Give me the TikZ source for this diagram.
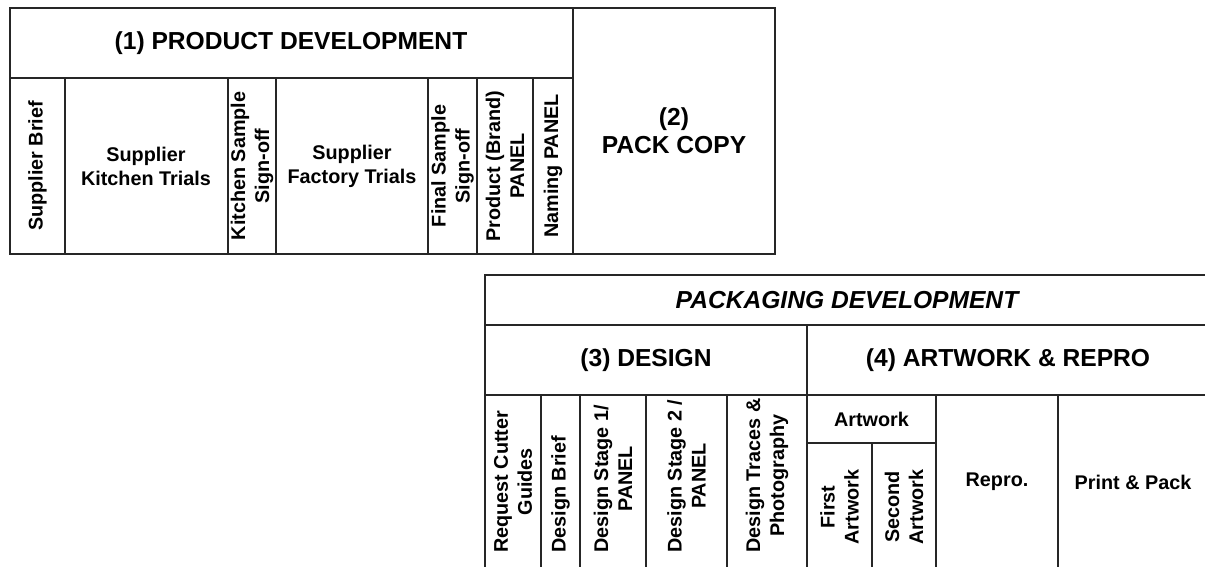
\documentclass[tikz,border=0pt]{standalone}
\usepackage{fontspec}
\setmainfont{Liberation Sans}
\usetikzlibrary{positioning}

\begin{document}
\begin{tikzpicture}[
    x=0.5pt,y=-0.5pt,
    grid/.style={draw=black!85,line width=1pt},
    head/.style={font=\fontsize{12.3}{14}\selectfont\bfseries,align=center},
    txt/.style={font=\fontsize{9.9}{12}\selectfont\bfseries,align=center,inner sep=0pt},
    vtxt/.style={txt,rotate=90}
  ]
    \useasboundingbox (0,0) rectangle (1205,567);
    \fill[white] (0,0) rectangle (1205,567);
    \clip (0,0) rectangle (1205,567);

    % product development and pack copy
    \draw[grid] (10,8) rectangle (775,254);
    \draw[grid] (573,8) -- (573,254);
    \draw[grid] (10,78) -- (573,78);
    \foreach \x in {65,228,276,428,477,533}
      \draw[grid] (\x,78) -- (\x,254);

    \node[head] (prod) at (291,43) {(1) PRODUCT DEVELOPMENT};
    \node[head] (copy) at (674,131) {(2)\\PACK COPY};
    \node[vtxt] (brief) at (37.5,166) {Supplier Brief};
    \node[txt] (kitchen) at (146,166) {Supplier\\Kitchen Trials};
    \node[vtxt] (ksign) at (252,166) {Kitchen Sample\\Sign-off};
    \node[txt] (factory) at (352,166) {Supplier\\Factory Trials};
    \node[vtxt] (fsign) at (452.5,166) {Final Sample\\Sign-off};
    \node[vtxt] (brand) at (505,166) {Product (Brand)\\PANEL};
    \node[vtxt] (naming) at (553,166) {Naming PANEL};

    % packaging development
    \draw[grid] (485,600) |- (1209,275) -- (1209,600);
    \draw[grid] (485,325) -- (1209,325);
    \draw[grid] (485,395) -- (1209,395);
    \draw[grid] (807,325) -- (807,600);
    \foreach \x in {541,580,646,727,936,1058}
      \draw[grid] (\x,395) -- (\x,600);
    \draw[grid] (807,443) -- (936,443);
    \draw[grid] (872,443) -- (872,600);

    \node[head,font=\fontsize{12.3}{14}\selectfont\bfseries\itshape] (pack) at (847,300) {PACKAGING DEVELOPMENT};
    \node[head] (design) at (646,360) {(3) DESIGN};
    \node[head] (repro) at (1008,360) {(4) ARTWORK \& REPRO};
    \node[txt] (artwork) at (871.5,419) {Artwork};

    \node[vtxt,anchor=west] (cutter) at (513,553) {Request Cutter\\Guides};
    \node[vtxt,anchor=west] (dbrief) at (560.5,553) {Design Brief};
    \node[vtxt,anchor=west] (stage1) at (613,553) {Design Stage 1/\\PANEL};
    \node[vtxt,anchor=west] (stage2) at (686.5,553) {Design Stage 2 /\\PANEL};
    \node[vtxt,anchor=west] (traces) at (767,553) {Design Traces \&\\Photography};
    \node[vtxt] (first) at (839.5,507) {First\\Artwork};
    \node[vtxt] (second) at (904,507) {Second\\Artwork};
    \node[txt] (reprocell) at (997,482) {Repro.};
    \node[txt] (print) at (1133,482) {Print \& Pack};
\end{tikzpicture}
\end{document}
